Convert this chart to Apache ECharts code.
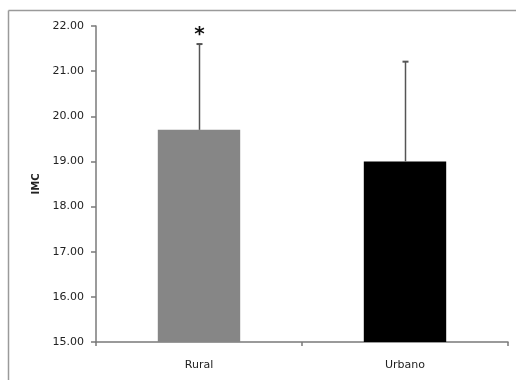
<!DOCTYPE html>
<html><head><meta charset="utf-8">
<script src="https://cdn.jsdelivr.net/npm/echarts@6/dist/echarts.min.js"></script>
<style>html,body{margin:0;padding:0;background:#fff;overflow:hidden}#c{width:516px;height:380px}</style>
</head><body><div id="c"></div>
<script>
const categories = ['Rural', 'Urbano'];
const means = [19.70, 19.00];
const upperErr = [21.60, 21.21];
const marks = ['*', ''];
const barColors = ['#868686', '#000000'];
const yTicks = [15, 16, 17, 18, 19, 20, 21, 22];

const chart = echarts.init(document.getElementById('c'), null, {renderer: 'canvas'});
const font = 'DejaVu Sans';
chart.setOption({
  animation: false,
  backgroundColor: '#fff',
  graphic: [
    {type: 'line', shape: {x1: 8.5, y1: 10.5, x2: 516, y2: 10.5}, style: {stroke: '#9a9a9a', lineWidth: 1.5}, z: -1},
    {type: 'line', shape: {x1: 8.5, y1: 10.5, x2: 8.5, y2: 380}, style: {stroke: '#9a9a9a', lineWidth: 1.5}, z: -1}
  ],
  grid: {left: 96, right: 8, top: 26, bottom: 38},
  xAxis: {
    type: 'category', data: categories,
    axisLine: {lineStyle: {color: '#7a7a7a', width: 1.5}},
    axisTick: {show: true, alignWithLabel: false, length: 4, lineStyle: {color: '#7a7a7a', width: 1.5}},
    axisLabel: {color: '#222', fontFamily: font, fontSize: 11, margin: 18}
  },
  yAxis: {
    type: 'value', min: yTicks[0], max: yTicks[yTicks.length - 1], interval: 1,
    name: 'IMC', nameLocation: 'middle', nameGap: 52, nameRotate: 90,
    nameTextStyle: {color: '#222', fontFamily: font, fontSize: 10, fontWeight: 'bold'},
    axisLine: {show: true, lineStyle: {color: '#7a7a7a', width: 1.5}},
    axisTick: {show: true, length: 5, lineStyle: {color: '#7a7a7a', width: 1.5}},
    splitLine: {show: false},
    axisLabel: {color: '#222', fontFamily: font, fontSize: 11, margin: 12,
      formatter: v => v.toFixed(2)}
  },
  series: [{
    type: 'bar', barWidth: '40%',
    data: means.map((v, i) => ({value: v, itemStyle: {color: barColors[i]}})),
    z: 2
  }, {
    type: 'custom',
    data: categories.map((c, i) => [i, means[i], upperErr[i], marks[i]]),
    renderItem: function (params, api) {
      const p0 = api.coord([api.value(0), api.value(1)]);
      const p1 = api.coord([api.value(0), api.value(2)]);
      const x = Math.round(p0[0]) + 0.5;
      const children = [
        {type: 'line', shape: {x1: x, y1: p0[1], x2: x, y2: p1[1]}, style: {stroke: '#555', lineWidth: 1.5}},
        {type: 'line', shape: {x1: x - 3, y1: p1[1], x2: x + 3, y2: p1[1]}, style: {stroke: '#555', lineWidth: 2}}
      ];
      const m = marks[params.dataIndex];
      if (m) {
        children.push({type: 'text', x: x, y: p1[1] + 1,
          style: {text: m, fontFamily: font, fontSize: 20, fontWeight: 'bold', fill: '#111', align: 'center', verticalAlign: 'bottom'}});
      }
      return {type: 'group', children: children};
    },
    z: 3
  }]
});
</script></body></html>
